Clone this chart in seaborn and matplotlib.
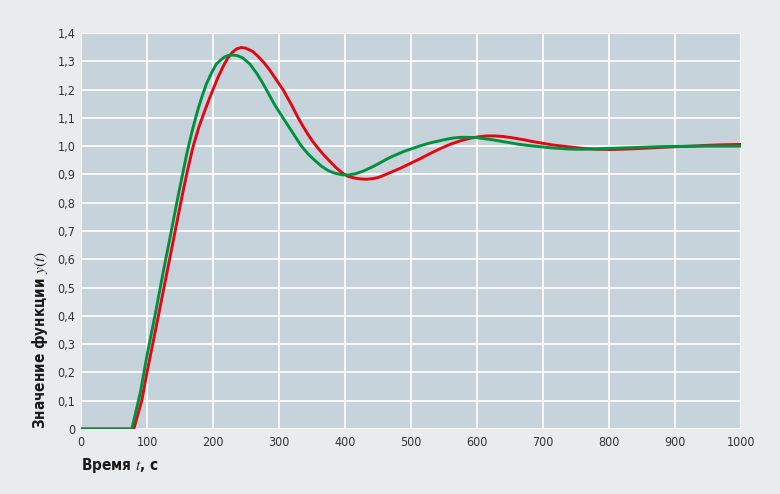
import numpy as np
import pandas as pd
import matplotlib
matplotlib.use('Agg')
import matplotlib.pyplot as plt
import seaborn as sns

# data
t_red = [0, 80, 92, 100, 117, 130, 141, 152, 161, 170, 179, 188, 194, 200, 207,
         215, 222, 230, 236, 243, 250, 260, 268, 278, 285, 292, 299, 306, 318,
         329, 336, 343, 350, 358, 367, 376, 386, 397, 406, 415, 424, 433, 442,
         450, 460, 470, 485, 500, 515, 530, 545, 560, 575, 590, 602, 615, 628,
         640, 655, 670, 685, 700, 715, 730, 745, 760, 780, 806, 830, 850, 875,
         900, 925, 950, 975, 1000]
y_red = [0, 0, 0.10, 0.20, 0.397, 0.55, 0.68, 0.81, 0.91, 1.0, 1.07, 1.128, 1.165,
         1.20, 1.24, 1.28, 1.31, 1.333, 1.344, 1.349, 1.346, 1.335, 1.318, 1.293,
         1.272, 1.248, 1.224, 1.20, 1.15, 1.10, 1.072, 1.045, 1.02, 0.996, 0.971,
         0.949, 0.925, 0.903, 0.892, 0.887, 0.884, 0.883, 0.885, 0.889, 0.898,
         0.908, 0.923, 0.94, 0.957, 0.975, 0.992, 1.007, 1.019, 1.028, 1.033,
         1.036, 1.036, 1.034, 1.029, 1.023, 1.016, 1.01, 1.004, 1.0, 0.996,
         0.992, 0.989, 0.988, 0.99, 0.992, 0.995, 0.998, 1.0, 1.003, 1.005, 1.006]

t_green = [0, 77, 90, 100, 112, 125, 136, 146, 153, 160, 168, 177, 184, 190, 198,
           205, 212, 218, 224, 230, 237, 245, 256, 266, 274, 281, 293, 306, 320,
           334, 345, 355, 365, 375, 385, 395, 405, 415, 428, 440, 450, 460, 470,
           480, 490, 500, 515, 530, 545, 555, 565, 575, 587, 600, 612, 625, 637,
           650, 662, 675, 687, 700, 712, 725, 737, 750, 762, 775, 800, 825, 850,
           875, 900, 950, 1000]
y_green = [0, 0, 0.13, 0.26, 0.40, 0.56, 0.69, 0.81, 0.89, 0.97, 1.05, 1.128,
           1.18, 1.22, 1.26, 1.29, 1.305, 1.316, 1.321, 1.322, 1.32, 1.312, 1.29,
           1.258, 1.228, 1.199, 1.148, 1.10, 1.05, 1.0, 0.97, 0.948, 0.928, 0.913,
           0.904, 0.899, 0.898, 0.902, 0.912, 0.925, 0.937, 0.95, 0.962, 0.972,
           0.982, 0.99, 1.002, 1.012, 1.02, 1.025, 1.029, 1.031, 1.031, 1.03,
           1.026, 1.022, 1.017, 1.012, 1.007, 1.003, 1.0, 0.997, 0.994, 0.992,
           0.99, 0.989, 0.989, 0.99, 0.992, 0.994, 0.996, 0.998, 0.999, 1.0, 1.0]

x_ticks = [0, 100, 200, 300, 400, 500, 600, 700, 800, 900, 1000]
y_ticks = [0, 0.1, 0.2, 0.3, 0.4, 0.5, 0.6, 0.7, 0.8, 0.9, 1.0, 1.1, 1.2, 1.3, 1.4]
y_tick_labels = ['0', '0,1', '0,2', '0,3', '0,4', '0,5', '0,6', '0,7', '0,8',
                 '0,9', '1,0', '1,1', '1,2', '1,3', '1,4']

sns.set_theme(style='dark')
plt.rcParams['font.family'] = ['DejaVu Sans']
plt.rcParams['font.stretch'] = 'condensed'
plt.rcParams['mathtext.fontset'] = 'stix'

fig = plt.figure(figsize=(7.8, 4.94), dpi=100)
fig.patch.set_facecolor('#e8ecef')
ax = fig.add_axes([81 / 780, 65 / 494, 660 / 780, 396 / 494])
ax.set_facecolor('#c7d3db')

sns.lineplot(x=t_red, y=y_red, color='#e30613', linewidth=2.1, ax=ax)
sns.lineplot(x=t_green, y=y_green, color='#00913f', linewidth=2.1, ax=ax)

ax.set_xlim(0, 1000)
ax.set_ylim(0, 1.4)
ax.set_xticks(x_ticks)
ax.set_yticks(y_ticks)
ax.set_yticklabels(y_tick_labels)
ax.grid(True, color='white', linewidth=1.2)
ax.set_axisbelow(True)
for s in ax.spines.values():
    s.set_visible(False)
ax.tick_params(length=0, labelsize=9, labelcolor='#333333')
ax.tick_params(axis='x', pad=5)
ax.tick_params(axis='y', pad=4)

ax.set_xlabel('Время $t$, с', loc='left', fontsize=11, fontweight='bold',
              color='#1a1a1a')
ax.set_ylabel('Значение функции $y(t)$', loc='bottom', fontsize=11,
              fontweight='bold', color='#1a1a1a')
ax.xaxis.set_label_coords(0, -0.068)
ax.yaxis.set_label_coords(-0.047, 0)

fig.savefig('out.png', dpi=100, facecolor=fig.get_facecolor())
